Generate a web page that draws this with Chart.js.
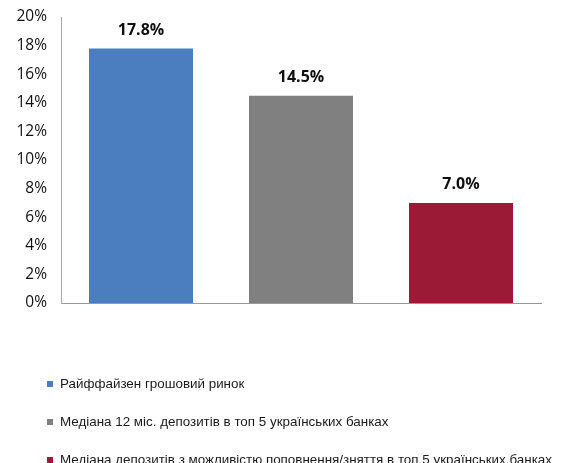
<!DOCTYPE html>
<html>
<head>
<meta charset="utf-8">
<script src="https://cdn.jsdelivr.net/npm/chart.js@4"></script>
<style>
  html, body { margin: 0; padding: 0; background: #fff; }
  #wrap { width: 575px; height: 463px; position: relative; }
</style>
</head>
<body>
<div id="wrap"><canvas id="chart" width="575" height="463"></canvas></div>
<script>
var categories = [
  'Райффайзен грошовий ринок',
  'Медіана 12 міс. депозитів в топ 5 українських банках',
  'Медіана депозитів з можливістю поповнення/зняття в топ 5 українських банках'
];
var values = [17.8, 14.5, 7.0];
var colors = ['#4a7ebf', '#808080', '#9b1b37'];
var yTicks = [0, 2, 4, 6, 8, 10, 12, 14, 16, 18, 20];

// value labels above each bar
var barLabels = {
  id: 'barLabels',
  afterDatasetsDraw: function (chart) {
    var ctx = chart.ctx;
    var meta = chart.getDatasetMeta(0);
    ctx.save();
    ctx.font = 'bold 16px "Open Sans"';
    ctx.fillStyle = '#111';
    ctx.textAlign = 'center';
    ctx.textBaseline = 'middle';
    meta.data.forEach(function (bar, i) {
      ctx.fillText(values[i].toFixed(1) + '%', bar.x, bar.y - 18);
    });
    ctx.restore();
  }
};

// vertical legend under the plot
var listLegend = {
  id: 'listLegend',
  afterDraw: function (chart) {
    var ctx = chart.ctx;
    ctx.save();
    ctx.font = '13.4px "Liberation Sans"';
    ctx.textBaseline = 'middle';
    ctx.textAlign = 'left';
    categories.forEach(function (name, i) {
      var y = 384 + i * 38;
      ctx.fillStyle = colors[i];
      ctx.fillRect(47, y - 3, 6, 6);
      ctx.fillStyle = '#1a1a1a';
      ctx.fillText(name, 60, y);
    });
    ctx.restore();
  }
};

new Chart(document.getElementById('chart').getContext('2d'), {
  type: 'bar',
  data: {
    labels: categories,
    datasets: [{
      data: values,
      backgroundColor: colors,
      borderWidth: 0,
      barPercentage: 0.65,
      categoryPercentage: 1
    }]
  },
  options: {
    responsive: false,
    animation: false,
    layout: { padding: { top: 17, right: 34, bottom: 160, left: 0 } },
    plugins: {
      legend: { display: false },
      tooltip: { enabled: false }
    },
    scales: {
      x: {
        grid: { display: false, drawTicks: false },
        border: { color: '#999', width: 1 },
        ticks: { display: false },
        afterFit: function (scale) { scale.height = 0; }
      },
      y: {
        min: 0,
        max: 20,
        grid: { display: false, drawTicks: false },
        border: { color: '#aaa', width: 1 },
        afterBuildTicks: function (scale) {
          scale.ticks = yTicks.map(function (v) { return { value: v }; });
        },
        ticks: {
          padding: 14,
          color: '#111',
          font: { family: '"Open Sans"', size: 15.5 },
          callback: function (v) { return v + '%'; }
        },
        afterFit: function (scale) {
          scale.width = 61;
          scale.paddingTop = 0;
          scale.paddingBottom = 0;
        }
      }
    }
  },
  plugins: [barLabels, listLegend]
});
</script>
</body>
</html>
